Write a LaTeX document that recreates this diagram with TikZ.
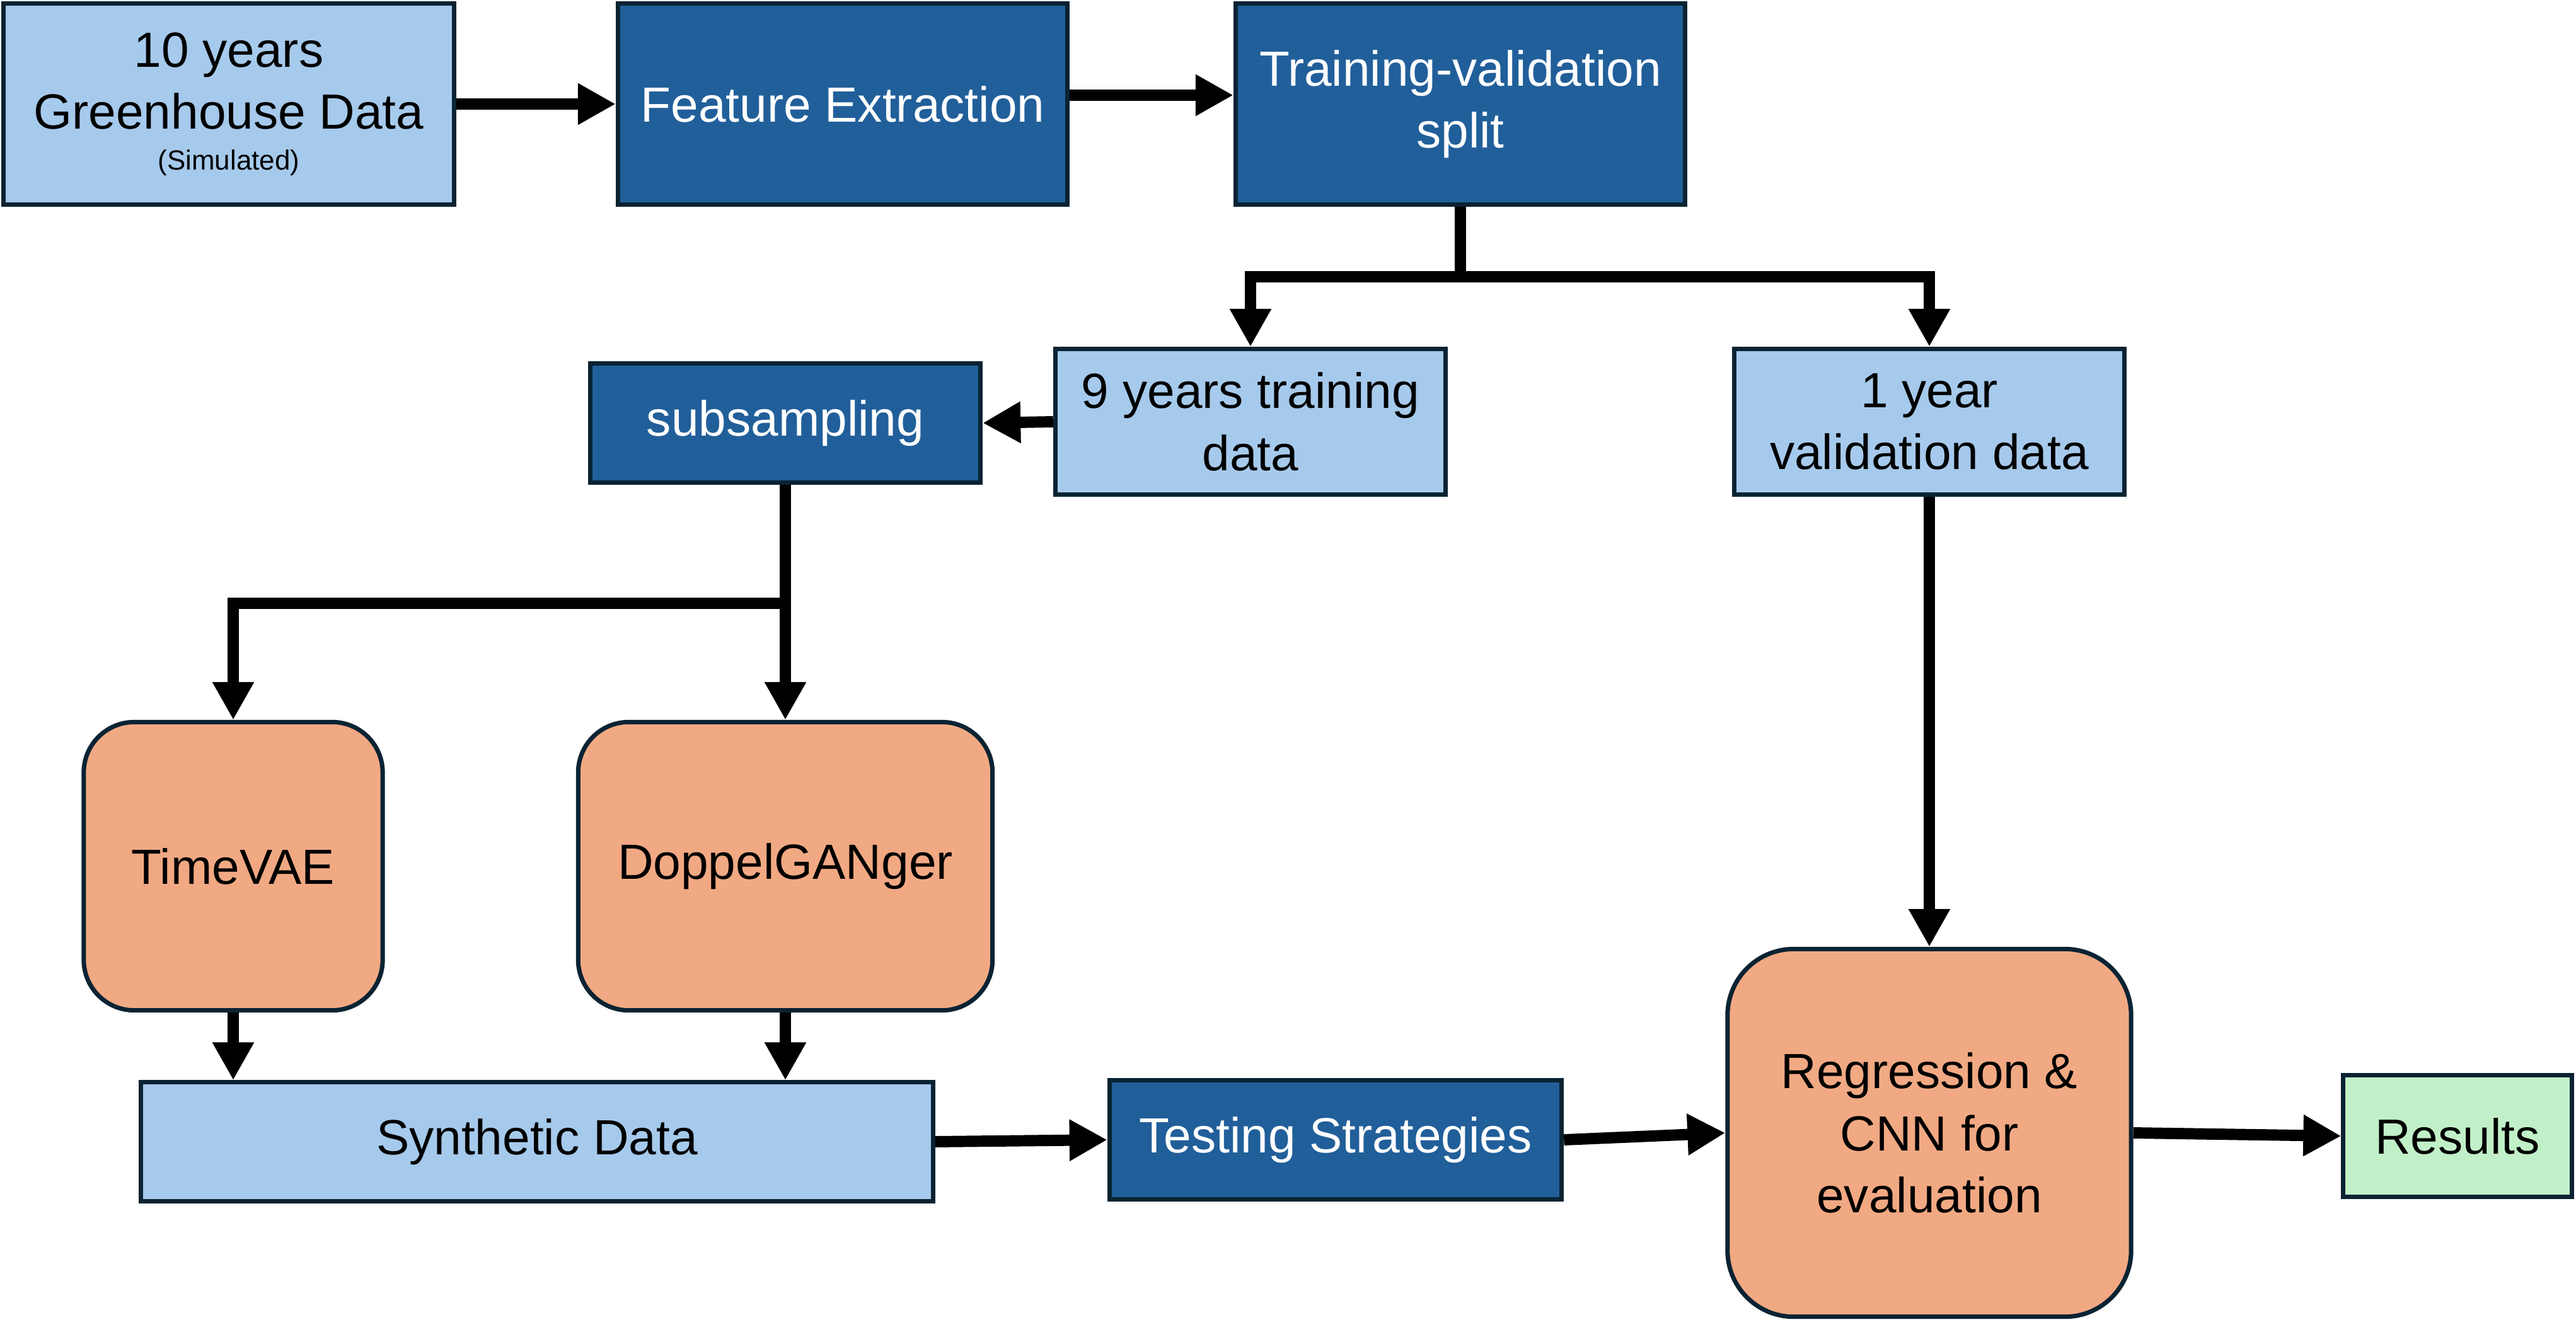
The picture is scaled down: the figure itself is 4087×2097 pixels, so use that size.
\documentclass[tikz,border=0pt]{standalone}
\usepackage{fontspec}
\setmainfont{Liberation Sans}
\usetikzlibrary{arrows.meta}
\definecolor{lb}{HTML}{A6CAEC}
\definecolor{db}{HTML}{215F9A}
\definecolor{orng}{HTML}{F1A983}
\definecolor{grn}{HTML}{C1F0C8}
\definecolor{bd}{HTML}{0A2333}
\begin{document}
\begin{tikzpicture}[x=0.01cm,y=-0.01cm,
  box/.style={draw=bd, line width=2pt, font=\fontsize{22.3}{27.9}\selectfont, align=center, inner sep=0pt},
  light/.style={box, fill=lb},
  dark/.style={box, fill=db, text=white},
  gen/.style={box, fill=orng},
  arr/.style={line width=5.1pt, -{Triangle[length=0.6cm,width=0.62cm]}},
  conn/.style={line width=5.1pt}]
\useasboundingbox (0,0) rectangle (4087,2097);

\node[light, minimum width=7.15cm, minimum height=3.19cm] (gh) at (363,165)
  {10 years\\Greenhouse Data\\[-9.4pt]{\fontsize{12.5}{15}\selectfont (Simulated)}};
\node[dark, minimum width=7.13cm, minimum height=3.19cm] (fe) at (1337,165) {Feature Extraction};
\node[dark, minimum width=7.13cm, minimum height=3.19cm] (tv) at (2317,165) {Training-validation\\split};
\node[light, minimum width=6.19cm, minimum height=2.31cm] (nine) at (1984,669) {9 years training\\data};
\node[light, minimum width=6.19cm, minimum height=2.31cm] (one) at (3061,669) {1 year\\validation data};
\node[dark, minimum width=6.19cm, minimum height=1.89cm] (sub) at (1246,671) {subsampling};
\node[gen, rounded corners=0.8cm, minimum width=4.74cm, minimum height=4.57cm] (tvae) at (370,1374) {TimeVAE};
\node[gen, rounded corners=0.8cm, minimum width=6.57cm, minimum height=4.57cm] (dg) at (1246,1374) {DoppelGANger};
\node[light, minimum width=12.56cm, minimum height=1.88cm] (syn) at (852,1811) {Synthetic Data};
\node[dark, minimum width=7.17cm, minimum height=1.88cm] (ts) at (2119,1808) {Testing Strategies};
\node[gen, rounded corners=1.05cm, minimum width=6.40cm, minimum height=5.83cm] (reg) at (3061,1797) {Regression \&\\CNN for\\evaluation};
\node[box, fill=grn, minimum width=3.62cm, minimum height=1.93cm] (res) at (3899,1802) {Results};

\coordinate (ya) at (0,151);
\coordinate (j1) at (0,439);
\coordinate (j2) at (0,957);

\draw[arr] (gh.east) -- (fe.west);
\draw[arr] (fe.east |- ya) -- (tv.west |- ya);
\draw[conn] (tv.south) -- (tv.south |- j1);
\draw[arr] (tv.south |- j1) -| (nine.north);
\draw[arr] (tv.south |- j1) -| (one.north);
\draw[arr] (nine.west) -- (sub.east);
\draw[arr] (sub.south) -- (dg.north);
\draw[arr] (sub.south |- j2) -| (tvae.north);
\draw[arr] (tvae.south) -- (tvae.south |- syn.north);
\draw[arr] (dg.south) -- (dg.south |- syn.north);
\draw[arr] (syn.east) -- (ts.west);
\draw[arr] (ts.east) -- (reg.west);
\draw[arr] (reg.east) -- (res.west);
\draw[arr] (one.south) -- (reg.north);
\end{tikzpicture}
\end{document}
